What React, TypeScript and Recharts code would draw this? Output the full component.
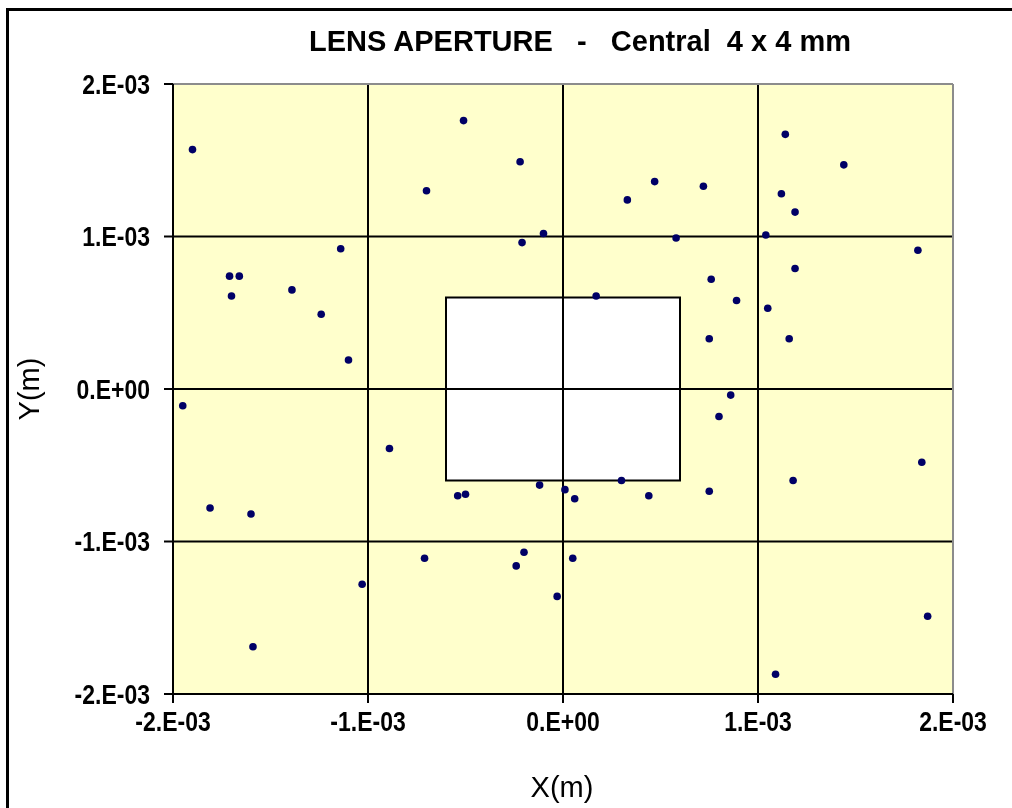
import React from 'react'
import {
  ScatterChart,
  Scatter,
  XAxis,
  YAxis,
  CartesianGrid,
  ReferenceArea,
  ReferenceLine,
  Label,
} from 'recharts'

// positions in units of 1E-03 m
const xValues = [
  -1.9, -0.51, -0.22, -0.7, -0.1, -0.21, -1.14, -1.71, -1.66, -1.7, -1.39, -1.24, -1.1,
  1.14, 1.44, 0.47, 0.72, 0.33, 1.12, 1.19, 1.04, 0.58, 1.82, 1.19, 0.76, 0.89, 1.05, 0.17,
  0.75, 1.16, 0.86, -1.95, -0.89, -0.54, -0.5, -0.12, 0.01, 0.06, -1.81, -1.6, -0.71, -0.2,
  -0.24, 0.05, -1.03, -0.03, -1.59, 0.8, 0.3, 0.44, 0.75, 1.18, 1.84, 1.87, 1.09,
]
const yValues = [
  1.57, 1.76, 1.49, 1.3, 1.02, 0.96, 0.92, 0.74, 0.74, 0.61, 0.65, 0.49, 0.19,
  1.67, 1.47, 1.36, 1.33, 1.24, 1.28, 1.16, 1.01, 0.99, 0.91, 0.79, 0.72, 0.58, 0.53, 0.61,
  0.33, 0.33, -0.04, -0.11, -0.39, -0.7, -0.69, -0.63, -0.66, -0.72, -0.78, -0.82, -1.11, -1.07,
  -1.16, -1.11, -1.28, -1.36, -1.69, -0.18, -0.6, -0.7, -0.67, -0.6, -0.48, -1.49, -1.87,
]
const axisTicks = [-2, -1, 0, 1, 2]
const apertureHalf = 0.6

const points = xValues.map((x, i) => ({ x, y: yValues[i] }))

const FONT = '"Liberation Sans", Arial, sans-serif'
const fmt = (v: number) => (v === 0 ? '0.E+00' : `${v}.E-03`)

// excel-ish tall tick text
const XTick = (p: any) => (
  <text
    transform={`translate(${p.x} ${p.y}) scale(1 1.2)`}
    textAnchor="middle"
    dy="0.71em"
    fontSize={23}
    fontWeight="bold"
    fontFamily={FONT}
    fill="#000"
  >
    {fmt(p.payload.value)}
  </text>
)

const YTick = (p: any) => (
  <text
    transform={`translate(${p.x} ${p.y}) scale(1 1.2)`}
    textAnchor="end"
    dy="0.355em"
    fontSize={23}
    fontWeight="bold"
    fontFamily={FONT}
    fill="#000"
  >
    {fmt(p.payload.value)}
  </text>
)

export default function App() {
  return (
    <div style={{ position: 'fixed', left: 0, top: 0, width: 1012, height: 808, background: '#fff', fontFamily: FONT }}>
      <div
        style={{
          position: 'absolute',
          left: 6,
          top: 8,
          width: 1006,
          height: 800,
          borderTop: '3px solid #000',
          borderLeft: '3px solid #000',
          boxSizing: 'border-box',
        }}
      />
      <div
        style={{
          position: 'absolute',
          left: 0,
          width: 1160,
          top: 27,
          textAlign: 'center',
          fontSize: 29,
          lineHeight: '29px',
          fontWeight: 'bold',
          whiteSpace: 'pre',
          color: '#000',
        }}
      >
        {'LENS APERTURE   -   Central  4 x 4 mm'}
      </div>
      <div style={{ position: 'absolute', left: 0, top: 0 }}>
        <ScatterChart width={1012} height={808} margin={{ top: 84, right: 59, bottom: 0, left: 0 }}>
          <CartesianGrid stroke="#000" strokeWidth={2} fill="#FFFFCC" fillOpacity={1} />
          <XAxis
            type="number"
            dataKey="x"
            domain={[-2, 2]}
            ticks={axisTicks}
            height={114}
            tickSize={9}
            tickMargin={8}
            tick={XTick}
            axisLine={{ stroke: '#000', strokeWidth: 2 }}
            tickLine={{ stroke: '#000', strokeWidth: 2 }}
          >
            <Label
              content={() => (
                <text x={562} y={797} textAnchor="middle" fontSize={29} fontFamily={FONT} fill="#000">
                  X(m)
                </text>
              )}
            />
          </XAxis>
          <YAxis
            type="number"
            dataKey="y"
            domain={[-2, 2]}
            ticks={axisTicks}
            width={173}
            tickSize={9}
            tickMargin={14}
            tick={YTick}
            axisLine={{ stroke: '#000', strokeWidth: 2 }}
            tickLine={{ stroke: '#000', strokeWidth: 2 }}
          >
            <Label
              content={() => (
                <text
                  x={39}
                  y={389}
                  transform="rotate(-90 39 389)"
                  textAnchor="middle"
                  fontSize={29}
                  fontFamily={FONT}
                  fill="#000"
                >
                  Y(m)
                </text>
              )}
            />
          </YAxis>
          <ReferenceArea
            x1={-apertureHalf}
            x2={apertureHalf}
            y1={-apertureHalf}
            y2={apertureHalf}
            fill="#fff"
            fillOpacity={1}
            stroke="#000"
            strokeWidth={2}
          />
          <ReferenceLine x={0} stroke="#000" strokeWidth={2} />
          <ReferenceLine y={0} stroke="#000" strokeWidth={2} />
          <ReferenceLine x={2} stroke="#8c8c8c" strokeWidth={2} />
          <ReferenceLine y={2} stroke="#8c8c8c" strokeWidth={2} />
          <Scatter
            data={points}
            isAnimationActive={false}
            shape={(p: any) => <circle cx={p.cx} cy={p.cy} r={3.8} fill="#000066" />}
          />
        </ScatterChart>
      </div>
    </div>
  )
}
